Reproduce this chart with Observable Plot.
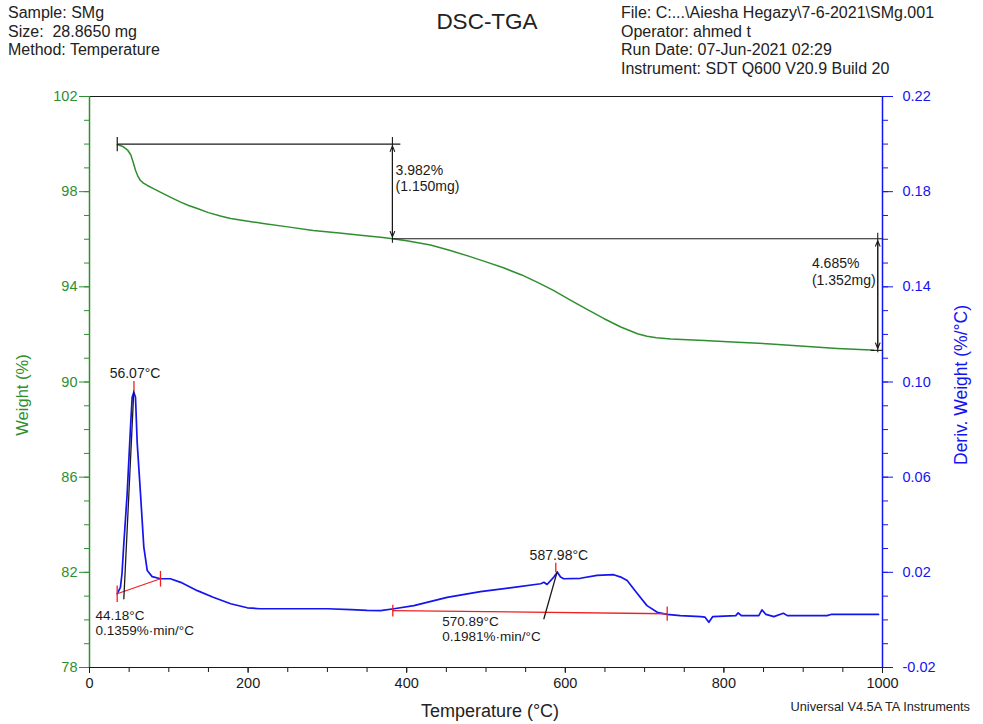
<!DOCTYPE html>
<html><head><meta charset="utf-8">
<script src="https://cdn.jsdelivr.net/npm/d3@7"></script>
<script src="https://cdn.jsdelivr.net/npm/@observablehq/plot@0.6"></script>
<style>
html,body{margin:0;padding:0;background:#fff;}
#wrap{position:relative;width:983px;height:724px;font-family:"Liberation Sans",Arial,sans-serif;color:#222;}
#wrap svg{position:absolute;left:0;top:0;}
.t{position:absolute;white-space:pre;}
</style></head><body><div id="wrap"></div>
<script>
// ---- TGA curve (Weight %, left axis)
const tgaTemp = [35,42,48,52,55,58,61,64,68,73,80,93,105,115,125,136,150,165,178,200,219,250,282,315,345,370,382,400,430,455,480,500,522,545,565,585,607,628,649,670,691,703,715,733,775,817,859,901,943,985,989];
const tgaWeight = [99.98,99.90,99.75,99.55,99.25,98.90,98.65,98.48,98.36,98.26,98.14,97.92,97.72,97.56,97.42,97.29,97.12,96.98,96.87,96.76,96.66,96.52,96.37,96.26,96.16,96.07,96.02,95.94,95.76,95.53,95.27,95.05,94.80,94.50,94.19,93.85,93.43,93.04,92.66,92.31,92.03,91.92,91.86,91.81,91.74,91.67,91.60,91.50,91.41,91.35,91.33];
// ---- DTG curve (Deriv. Weight %/°C, right axis)
const dtgTemp = [35,39,41,43,47.5,51.7,53.8,55.9,58,60.2,64.3,68.5,72.8,79,89.5,102,115,136,156,178,199,215,240,300,330,350,367,384,409,451,493,535,569,573,577,585.5,590,594,598,619,640,661,670,678,691,703,716,728,745,771,776,781,786,815,818,822,844,848,853,863,875,880,930,935,995];
const dtgDeriv = [0.0110,0.0137,0.0195,0.0306,0.0531,0.0810,0.0936,0.0957,0.0936,0.0741,0.0531,0.0306,0.0208,0.0182,0.0173,0.0173,0.0158,0.0123,0.0095,0.0068,0.0051,0.0047,0.0047,0.0047,0.0043,0.0040,0.0039,0.0047,0.0060,0.0095,0.0119,0.0137,0.0152,0.0158,0.0149,0.0180,0.0200,0.0180,0.0173,0.0175,0.0187,0.0190,0.0180,0.0166,0.0110,0.0060,0.0032,0.0023,0.0018,0.0014,0.0012,-0.0010,0.0014,0.0018,0.0030,0.0018,0.0018,0.0042,0.0023,0.0014,0.0028,0.0018,0.0018,0.0023,0.0023];
// ---- axis ticks
const weightTicks = [78,82,86,90,94,98,102];
const weightMinor = d3.range(78,103,1);
const derivTicks = [-0.02,0.02,0.06,0.10,0.14,0.18,0.22];
const tempTicks = [0,200,400,600,800,1000];
const tempMinor = d3.range(0,1001,50);
// ---- weight-step annotations
const stepTemps = [35,382,994];
const stepLevels = [100.0,96.02,91.33];
const stepText1 = ["3.982%","(1.150mg)"];
const stepText2 = ["4.685%","(1.352mg)"];
const stepText1Pos = {t:386, w:[98.89,98.22]};
const stepText2Pos = {t:911, w:[94.98,94.27]};
// ---- DTG peak annotations
const peakTemps = [56.07,587.98];
const peakLabelPos = [{t:57.4,d:0.1034},{t:591.9,d:0.0271}];
const peakTopD = [0.0964,0.0200];
const baseline1 = [{t:34.9,d:0.0110},{t:89.5,d:0.0173}];
const baseline2 = [{t:382.5,d:0.0039},{t:728.5,d:0.0026}];
const tangent1 = [{t:43.3,d:0.0089},{t:55.9,d:0.0964}];
const tangent2 = [{t:573,d:0.0005},{t:589.8,d:0.0203}];
const onsetText1 = ["44.18°C","0.1359%·min/°C"];
const onsetText2 = ["570.89°C","0.1981%·min/°C"];
const onsetPos1 = {t:7.6,d:[0.0018,-0.0044]};
const onsetPos2 = {t:444.8,d:[-0.0008,-0.0072]};

const green = "#2f8f2f", blue = "#1414f0", red = "#f02020", ink = "#1a1a1a";
const toY = d => 80 + 100*d; // right-axis value on left-axis scale
const tga = tgaTemp.map((t,i)=>({t, w:tgaWeight[i]}));
const dtg = dtgTemp.map((t,i)=>({t, y:toY(dtgDeriv[i])}));
const pt = a => a.map(p=>({t:p.t, y:toY(p.d)}));

const hLines = [
  {x1:stepTemps[0], x2:stepTemps[1]+10, y:stepLevels[0]},
  {x1:stepTemps[1], x2:1000, y:stepLevels[1]},
  {x1:stepTemps[2]-9, x2:1000, y:stepLevels[2]}
];
const vLines = [
  {x:stepTemps[1], y1:stepLevels[0]+0.3, y2:stepLevels[1]-0.17},
  {x:stepTemps[2], y1:stepLevels[1]+0.25, y2:stepLevels[2]-0.08}
];
const arrowHalves = [];
[[stepTemps[1], stepLevels[0], stepLevels[1]], [stepTemps[2], stepLevels[1], stepLevels[2]]].forEach(([x,a,b]) => {
  const m = (a+b)/2;
  arrowHalves.push({x, ym:m, ye:a-0.08}, {x, ym:m, ye:b+0.08});
});
const redTicks = [
  {x:baseline1[0].t, y:toY(baseline1[0].d), h:0.35},
  {x:baseline1[1].t, y:toY(baseline1[1].d), h:0.33},
  {x:baseline2[0].t, y:toY(baseline2[0].d), h:0.25},
  {x:baseline2[1].t, y:toY(baseline2[1].d), h:0.3},
];
const peakTicks = peakTemps.map((t,i)=>({x:t, y1:toY(peakTopD[i]), y2:toY(peakTopD[i])+0.4}));

const txt = (lines,pos,key) => lines.map((s,i)=>({t:pos.t, y: key==="w" ? pos.w[i] : toY(pos.d[i]), s}));

const plot = Plot.plot({
  width: 983, height: 724,
  marginTop: 96, marginLeft: 89, marginRight: 101, marginBottom: 57,
  x: {domain:[0,1000], label:null},
  y: {domain:[78,102], label:null},
  style: {fontFamily:"Liberation Sans, Arial, sans-serif", fontSize:"14.5px", background:"transparent", overflow:"visible"},
  marks: [
    Plot.ruleY([102], {stroke:ink, strokeWidth:1.2}),
    Plot.ruleY([78], {stroke:ink, strokeWidth:1.2}),
    Plot.ruleX([0], {stroke:green, strokeWidth:1.5}),
    Plot.ruleX([1000], {stroke:blue, strokeWidth:1.5}),
    Plot.axisY(weightMinor, {anchor:"left", tickSize:5, tickFormat:()=>"", color:green, label:null}),
    Plot.axisY(weightTicks, {anchor:"left", tickSize:10, tickPadding:2, color:green, fontSize:14.5, label:null}),
    Plot.axisY(weightMinor, {anchor:"right", tickSize:5, tickFormat:()=>"", color:blue, label:null}),
    Plot.axisY(weightTicks, {anchor:"right", tickSize:10, tickPadding:10, color:blue, fontSize:14.5, label:null, tickFormat: w => ((w-80)/100).toFixed(2)}),
    Plot.axisX(tempMinor, {anchor:"bottom", tickSize:5, tickFormat:()=>"", color:ink, label:null}),
    Plot.axisX(tempTicks, {anchor:"bottom", tickSize:6, tickPadding:4, color:ink, fontSize:14.5, label:null, tickFormat: d => String(d)}),
    // curves
    Plot.line(tga, {x:"t", y:"w", stroke:green, strokeWidth:1.5}),
    Plot.line(dtg, {x:"t", y:"y", stroke:blue, strokeWidth:1.7}),
    // step annotations
    Plot.link(hLines, {x1:"x1", x2:"x2", y1:"y", y2:"y", stroke:ink, strokeWidth:1.1}),
    Plot.link(vLines, {x1:"x", x2:"x", y1:"y1", y2:"y2", stroke:ink, strokeWidth:1.1}),
    Plot.arrow(arrowHalves, {x1:"x", x2:"x", y1:"ym", y2:"ye", stroke:ink, strokeWidth:1.1, headLength:8, headAngle:45}),
    Plot.link([{x:stepTemps[0]}], {x1:"x", x2:"x", y1:()=>stepLevels[0]-0.3, y2:()=>stepLevels[0]+0.3, stroke:ink, strokeWidth:1.2}),
    Plot.text(txt(stepText1, stepText1Pos, "w"), {x:"t", y:"y", text:"s", textAnchor:"start", fill:ink, fontSize:14}),
    Plot.text(txt(stepText2, stepText2Pos, "w"), {x:"t", y:"y", text:"s", textAnchor:"start", fill:ink, fontSize:14}),
    // DTG annotations
    Plot.line(pt(baseline1), {x:"t", y:"y", stroke:red, strokeWidth:1.3}),
    Plot.line(pt(baseline2), {x:"t", y:"y", stroke:red, strokeWidth:1.3}),
    Plot.link(redTicks, {x1:"x", x2:"x", y1:d=>d.y-d.h, y2:d=>d.y+d.h, stroke:red, strokeWidth:1.3}),
    Plot.link(peakTicks, {x1:"x", x2:"x", y1:"y1", y2:"y2", stroke:red, strokeWidth:1.3}),
    Plot.line(pt(tangent1), {x:"t", y:"y", stroke:ink, strokeWidth:1.3}),
    Plot.line(pt(tangent2), {x:"t", y:"y", stroke:ink, strokeWidth:1.3}),
    Plot.text(peakLabelPos.map((p,i)=>({t:p.t, y:toY(p.d), s:peakTemps[i].toFixed(2)+"°C"})), {x:"t", y:"y", text:"s", textAnchor:"middle", fill:ink, fontSize:14}),
    Plot.text(txt(onsetText1, onsetPos1, "d"), {x:"t", y:"y", text:"s", textAnchor:"start", fill:ink, fontSize:13.5}),
    Plot.text(txt(onsetText2, onsetPos2, "d"), {x:"t", y:"y", text:"s", textAnchor:"start", fill:ink, fontSize:13.5}),
  ]
});
const wrap = document.getElementById("wrap");
wrap.appendChild(plot);

const headerLeft = ["Sample: SMg","Size:  28.8650 mg","Method: Temperature"];
const headerRight = ["File: C:...\\Aiesha Hegazy\\7-6-2021\\SMg.001","Operator: ahmed t","Run Date: 07-Jun-2021 02:29","Instrument: SDT Q600 V20.9 Build 20"];
function addDiv(text, css){ const d=document.createElement("div"); d.className="t"; d.textContent=text; Object.assign(d.style, css); wrap.appendChild(d); return d; }
addDiv(headerLeft.join("\n"), {left:"8px", top:"4px", fontSize:"16px", lineHeight:"18.7px"});
addDiv(headerRight.join("\n"), {left:"621px", top:"4px", fontSize:"16px", lineHeight:"18.7px"});
addDiv("DSC-TGA", {left:"487px", top:"22px", fontSize:"22.5px", transform:"translate(-50%,-50%)", lineHeight:"1"});
addDiv("Weight (%)", {left:"22px", top:"395px", fontSize:"16.5px", color:green, transform:"translate(-50%,-50%) rotate(-90deg)", lineHeight:"1"});
addDiv("Deriv. Weight (%/°C)", {left:"962px", top:"385px", fontSize:"17.5px", color:blue, transform:"translate(-50%,-50%) rotate(-90deg)", lineHeight:"1"});
addDiv("Temperature (°C)", {left:"490px", top:"711px", fontSize:"18px", transform:"translate(-50%,-50%)", lineHeight:"1"});
addDiv("Universal V4.5A TA Instruments", {left:"970px", top:"707px", fontSize:"12.8px", transform:"translate(-100%,-50%)", lineHeight:"1"});
</script>
</body></html>
